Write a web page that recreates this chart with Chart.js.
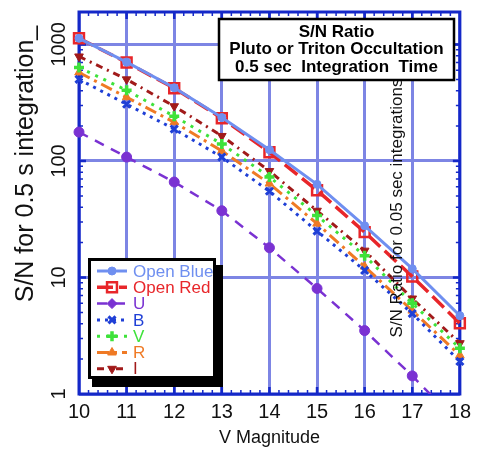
<!DOCTYPE html>
<html lang="en">
<head>
<meta charset="UTF-8">
<title>S/N Ratio - Pluto or Triton Occultation</title>
<script src="https://cdn.jsdelivr.net/npm/chart.js"></script>
<style>
  html, body { margin: 0; padding: 0; background: #fff; }
  .chart-container { position: relative; width: 477px; height: 449px; }
</style>
</head>
<body>
<div class="chart-container"><canvas id="snChart"></canvas></div>
<script>
// values (S/N for 0.5 s integration)
const vMag = [10, 11, 12, 13, 14, 15, 16, 17, 18];
const openBlue = [1130, 705, 425, 236, 125, 63, 27.8, 11.9, 4.7];
const openRed  = [1130, 700, 421, 233, 119, 56, 24.5, 10.2, 4.05];
const uBand    = [177, 108, 66, 37.4, 18, 8.05, 3.5, 1.43, 0.55];
const bBand    = [502, 307, 188, 108, 55, 25, 11.5, 4.9, 1.9];
const vBand    = [635, 404, 242, 140, 73, 34, 15.4, 6.0, 2.47];
const rBand    = [575, 352, 215, 122, 64, 29, 12.4, 5.2, 2.15];
const iBand    = [789, 502, 295, 164, 82, 37.4, 17, 6.6, 2.73];

const yTickValues = [1, 10, 100, 1000];
const yTickLabels = ['1', '10', '100', '1000'];
const boxLines = ['S/N Ratio', 'Pluto or Triton Occultation', '0.5 sec  Integration  Time'];
const xTitle = 'V Magnitude';
const yTitle = 'S/N for 0.5 s integration_';
const sideNote = 'S/N Ratio for 0.05 sec integrations';

const FONT = "'Liberation Sans', Arial, sans-serif";
const GRID = '#7d85e4';
const FRAME = '#1428c8';

function pts(arr) {
    return vMag.map((x, i) => ({ x: x, y: arr[i] }));
}

// frame, tick marks, texts, boxes
const decor = {
    id: 'decor',
    beforeDatasetsDraw(chart) {
        const ctx = chart.ctx;
        const a = chart.chartArea;
        const xs = chart.scales.x, ys = chart.scales.y;
        ctx.save();
        ctx.strokeStyle = FRAME;
        // minor y ticks
        ctx.lineWidth = 1.5;
        for (let d = 1; d <= 1000; d *= 10) {
            for (let k = 2; k <= 9; k++) {
                const v = d * k;
                if (v > ys.max) continue;
                const py = ys.getPixelForValue(v);
                ctx.beginPath();
                ctx.moveTo(a.left, py); ctx.lineTo(a.left + 4, py);
                ctx.moveTo(a.right, py); ctx.lineTo(a.right - 4, py);
                ctx.stroke();
            }
        }
        // minor x ticks
        for (let v = 10.2; v < 18; v += 0.2) {
            const px = xs.getPixelForValue(v);
            ctx.beginPath();
            ctx.moveTo(px, a.top); ctx.lineTo(px, a.top + 4);
            ctx.moveTo(px, a.bottom); ctx.lineTo(px, a.bottom - 4);
            ctx.stroke();
        }
        // major ticks
        ctx.lineWidth = 2.5;
        for (let v = 11; v < 18; v++) {
            const px = xs.getPixelForValue(v);
            ctx.beginPath();
            ctx.moveTo(px, a.top); ctx.lineTo(px, a.top + 7);
            ctx.moveTo(px, a.bottom); ctx.lineTo(px, a.bottom - 7);
            ctx.stroke();
        }
        yTickValues.slice(1).forEach(v => {
            const py = ys.getPixelForValue(v);
            ctx.beginPath();
            ctx.moveTo(a.left, py); ctx.lineTo(a.left + 7, py);
            ctx.moveTo(a.right, py); ctx.lineTo(a.right - 7, py);
            ctx.stroke();
        });
        // frame
        ctx.lineWidth = 3;
        ctx.strokeRect(a.left, a.top, a.right - a.left, a.bottom - a.top);
        ctx.restore();
    },
    afterDraw(chart) {
        const ctx = chart.ctx;
        const a = chart.chartArea;
        const ys = chart.scales.y;
        ctx.save();
        ctx.fillStyle = '#111';

        // y tick labels (rotated)
        ctx.font = '20px ' + FONT;
        ctx.textAlign = 'center';
        ctx.textBaseline = 'alphabetic';
        yTickValues.forEach((v, i) => {
            ctx.save();
            ctx.translate(a.left - 14, ys.getPixelForValue(v));
            ctx.rotate(-Math.PI / 2);
            ctx.fillText(yTickLabels[i], 0, 0);
            ctx.restore();
        });

        // y axis title
        ctx.save();
        ctx.font = '25px ' + FONT;
        ctx.translate(33, 164);
        ctx.rotate(-Math.PI / 2);
        ctx.fillText(yTitle, 0, 0);
        ctx.restore();

        // x axis title
        ctx.font = '18px ' + FONT;
        ctx.textBaseline = 'middle';
        ctx.fillText(xTitle, (a.left + a.right) / 2, 438);

        // side note
        ctx.save();
        ctx.font = '17px ' + FONT;
        ctx.textBaseline = 'alphabetic';
        ctx.translate(402, 208);
        ctx.rotate(-Math.PI / 2);
        ctx.fillText(sideNote, 0, 0);
        ctx.restore();

        // title box
        ctx.fillStyle = '#fff';
        ctx.fillRect(219, 19, 235, 61);
        ctx.strokeStyle = '#000';
        ctx.lineWidth = 2.5;
        ctx.strokeRect(219, 19, 235, 61);
        ctx.fillStyle = '#000';
        ctx.font = 'bold 17px ' + FONT;
        ctx.textBaseline = 'middle';
        boxLines.forEach((t, i) => ctx.fillText(t, 336.5, 32 + i * 17.5));

        // legend box with shadow
        ctx.fillStyle = '#000';
        ctx.fillRect(92, 265, 131, 122);
        ctx.fillStyle = '#fff';
        ctx.fillRect(88, 258, 128, 121);
        ctx.lineWidth = 3;
        ctx.strokeRect(89.5, 259.5, 125, 118);

        ctx.textAlign = 'left';
        ctx.font = '17px ' + FONT;
        chart.data.datasets.forEach((ds, i) => {
            const cy = 271 + i * 16.3;
            ctx.save();
            ctx.strokeStyle = ds.borderColor;
            ctx.lineWidth = ds.borderWidth;
            ctx.setLineDash(ds.borderDash || []);
            ctx.beginPath();
            ctx.moveTo(97, cy); ctx.lineTo(127, cy);
            ctx.stroke();
            ctx.setLineDash([]);
            ctx.strokeStyle = ds.pointBorderColor;
            ctx.fillStyle = ds.pointBackgroundColor;
            ctx.lineWidth = ds.pointBorderWidth;
            Chart.helpers.drawPoint(ctx, {
                pointStyle: ds.legendStyle || ds.pointStyle,
                rotation: ds.pointRotation || 0,
                radius: ds.pointRadius,
                borderWidth: ds.pointBorderWidth
            }, 112, cy);
            ctx.fillStyle = ds.borderColor;
            ctx.fillText(ds.label, 133, cy + 1);
            ctx.restore();
        });
        ctx.restore();
    }
};

const edgeClip = { left: 10, top: 10, right: 10, bottom: 0 };

const ctx = document.getElementById('snChart').getContext('2d');
const snChart = new Chart(ctx, {
    type: 'line',
    data: {
        datasets: [
            {
                label: 'Open Blue', data: pts(openBlue),
                borderColor: '#6f8ff0', borderWidth: 3,
                pointStyle: 'circle', pointRadius: 4, pointBorderWidth: 1,
                pointBackgroundColor: '#6f8ff0', pointBorderColor: '#6f8ff0',
                clip: edgeClip
            },
            {
                label: 'Open Red', data: pts(openRed),
                borderColor: '#e8262a', borderWidth: 3.5, borderDash: [16, 6],
                pointStyle: 'rect', pointRadius: 7, pointBorderWidth: 2.5,
                pointBackgroundColor: 'rgba(255,255,255,0)', pointBorderColor: '#e8262a',
                clip: edgeClip
            },
            {
                label: 'U', data: pts(uBand),
                borderColor: '#7a32d2', borderWidth: 2.5, borderDash: [10, 8],
                pointStyle: 'circle', legendStyle: 'rectRot', pointRadius: 5, pointBorderWidth: 1,
                pointBackgroundColor: '#7a32d2', pointBorderColor: '#7a32d2',
                clip: edgeClip
            },
            {
                label: 'B', data: pts(bBand),
                borderColor: '#1f3fd6', borderWidth: 3, borderDash: [3, 5],
                pointStyle: 'crossRot', pointRadius: 5, pointBorderWidth: 3,
                pointBackgroundColor: '#1f3fd6', pointBorderColor: '#1f3fd6',
                clip: edgeClip
            },
            {
                label: 'V', data: pts(vBand),
                borderColor: '#3ee23a', borderWidth: 3, borderDash: [3, 6],
                pointStyle: 'cross', pointRadius: 5, pointBorderWidth: 3.5,
                pointBackgroundColor: '#3ee23a', pointBorderColor: '#3ee23a',
                clip: edgeClip
            },
            {
                label: 'R', data: pts(rBand),
                borderColor: '#ef7a25', borderWidth: 3, borderDash: [12, 5, 3, 5],
                pointStyle: 'triangle', pointRadius: 5, pointBorderWidth: 1,
                pointBackgroundColor: '#ef7a25', pointBorderColor: '#ef7a25',
                clip: edgeClip
            },
            {
                label: 'I', data: pts(iBand),
                borderColor: '#a11a1a', borderWidth: 3, borderDash: [7, 5, 2, 5],
                pointStyle: 'triangle', pointRotation: 180, pointRadius: 5, pointBorderWidth: 1,
                pointBackgroundColor: '#a11a1a', pointBorderColor: '#a11a1a',
                clip: edgeClip
            }
        ]
    },
    options: {
        responsive: true,
        maintainAspectRatio: false,
        animation: false,
        devicePixelRatio: 1,
        layout: { padding: { top: 12, right: 15, left: 0, bottom: 0 } },
        plugins: {
            legend: { display: false },
            tooltip: { enabled: false }
        },
        scales: {
            x: {
                type: 'linear', min: 10, max: 18,
                ticks: {
                    stepSize: 1, padding: 6, maxRotation: 0,
                    color: '#111', font: { family: FONT, size: 20 }
                },
                grid: { color: GRID, lineWidth: 3, drawTicks: false },
                border: { display: false },
                afterFit(s) { s.height = 55; }
            },
            y: {
                type: 'logarithmic', min: 1, max: 1900,
                afterBuildTicks(s) { s.ticks = yTickValues.map(v => ({ value: v })); },
                ticks: { display: false },
                grid: { color: GRID, lineWidth: 3, drawTicks: false },
                border: { display: false },
                afterFit(s) { s.width = 79; }
            }
        }
    },
    plugins: [decor]
});
</script>
</body>
</html>
